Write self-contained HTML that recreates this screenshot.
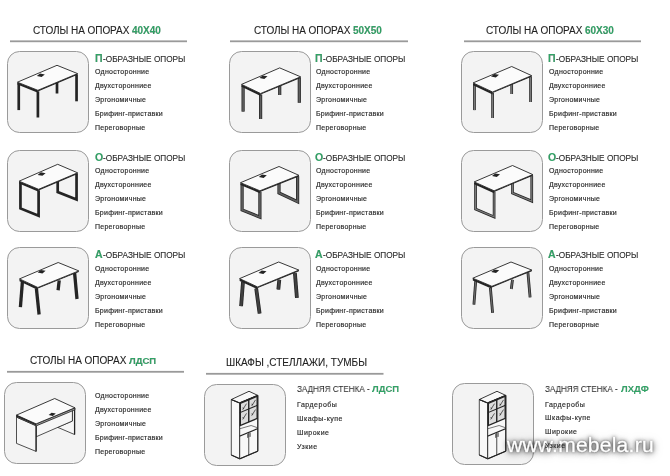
<!DOCTYPE html>
<html><head><meta charset="utf-8"><style>
html,body{margin:0;padding:0;background:#fff;width:670px;height:476px;overflow:hidden;position:relative}
body{font-family:"Liberation Sans",sans-serif;color:#262626}
svg{position:absolute;left:0;top:0}
.hd,.sh,.li,.sh2,.wm{will-change:transform}
.hd,.sh,.li,.sh2{position:absolute;white-space:nowrap;line-height:0}
.hd{font-size:10px;letter-spacing:-0.06px;color:#222;-webkit-text-stroke:0.1px #222}
.hd.z{letter-spacing:0}
.hd b{color:#30a466;letter-spacing:0}
.hd b.s{font-size:9.5px}
.sh span{display:inline-block;transform:scaleX(0.915);transform-origin:0 0}
.sh{font-size:9px;letter-spacing:0;color:#2a2a2a;-webkit-text-stroke:0.12px #2a2a2a}
.sh b{color:#30a466;font-size:10.5px;letter-spacing:0}
.sh2 span{display:inline-block;transform:scaleX(0.9);transform-origin:0 0}
.sh2{font-size:9px;letter-spacing:0;color:#2a2a2a;-webkit-text-stroke:0.05px #2a2a2a}
.sh2 b{color:#30a466;font-size:9.5px;letter-spacing:0}
.li.c{letter-spacing:0.5px}
.li{font-size:7px;letter-spacing:0.26px;color:#2a2a2a;-webkit-text-stroke:0.16px #2a2a2a}
.wm{position:absolute;left:507px;top:445px;line-height:0;font-size:21px;letter-spacing:0.25px;color:#fff;-webkit-text-stroke:0.35px #fff;text-shadow:0 0 2px rgba(0,0,0,0.6),0 0 4px rgba(0,0,0,0.6),0 1px 7px rgba(0,0,0,0.6),0 1px 11px rgba(0,0,0,0.35);white-space:nowrap}
</style></head><body>
<svg width="670" height="476" viewBox="0 0 670 476">
<rect x="10" y="40.4" width="177" height="1.8" fill="#9a9a9a"/>
<rect x="230" y="40.4" width="178" height="1.8" fill="#9a9a9a"/>
<rect x="464" y="40.4" width="177" height="1.8" fill="#9a9a9a"/>
<rect x="7" y="370.9" width="177" height="1.8" fill="#9a9a9a"/>
<rect x="206" y="372.9" width="177.5" height="1.8" fill="#9a9a9a"/>
<rect x="7.5" y="51.5" width="81" height="81" rx="12" ry="12" fill="#f3f3f3" stroke="#9a9a9a" stroke-width="1"/>
<rect x="7.5" y="150.5" width="81" height="81" rx="12" ry="12" fill="#f3f3f3" stroke="#9a9a9a" stroke-width="1"/>
<rect x="7.5" y="247.5" width="81" height="81" rx="12" ry="12" fill="#f3f3f3" stroke="#9a9a9a" stroke-width="1"/>
<rect x="229.5" y="51.5" width="81" height="81" rx="12" ry="12" fill="#f3f3f3" stroke="#9a9a9a" stroke-width="1"/>
<rect x="229.5" y="150.5" width="81" height="81" rx="12" ry="12" fill="#f3f3f3" stroke="#9a9a9a" stroke-width="1"/>
<rect x="229.5" y="247.5" width="81" height="81" rx="12" ry="12" fill="#f3f3f3" stroke="#9a9a9a" stroke-width="1"/>
<rect x="461.5" y="51.5" width="81" height="81" rx="12" ry="12" fill="#f3f3f3" stroke="#9a9a9a" stroke-width="1"/>
<rect x="461.5" y="150.5" width="81" height="81" rx="12" ry="12" fill="#f3f3f3" stroke="#9a9a9a" stroke-width="1"/>
<rect x="461.5" y="247.5" width="81" height="81" rx="12" ry="12" fill="#f3f3f3" stroke="#9a9a9a" stroke-width="1"/>
<rect x="4.5" y="382.5" width="81" height="81" rx="12" ry="12" fill="#f3f3f3" stroke="#9a9a9a" stroke-width="1"/>
<rect x="204.5" y="384.5" width="81" height="81" rx="12" ry="12" fill="#f3f3f3" stroke="#9a9a9a" stroke-width="1"/>
<rect x="452.5" y="383.5" width="81" height="81" rx="12" ry="12" fill="#f3f3f3" stroke="#9a9a9a" stroke-width="1"/>
<g transform="translate(7,51)"><path d="M11.75,32.20 L11.75,59.10" fill="none" stroke="#242424" stroke-width="2.7" stroke-linecap="butt" stroke-linejoin="miter"/><path d="M30.90,40.30 L30.90,66.50" fill="none" stroke="#242424" stroke-width="2.7" stroke-linecap="butt" stroke-linejoin="miter"/><path d="M69.55,23.60 L69.55,50.30" fill="none" stroke="#242424" stroke-width="2.7" stroke-linecap="butt" stroke-linejoin="miter"/><path d="M50.00,31.27 L50.00,42.50" fill="none" stroke="#242424" stroke-width="2.7" stroke-linecap="butt" stroke-linejoin="miter"/><polygon points="10.40,31.20 30.90,39.30 30.90,41.70 10.40,33.60" fill="#242424"/><polygon points="30.90,39.30 70.60,22.60 70.60,23.68 30.90,40.38" fill="#242424"/><polygon points="10.40,31.20 50.00,14.30 70.60,22.60 30.90,39.30" fill="#fbfbfb" stroke="#242424" stroke-width="0.9" stroke-linejoin="round"/><polygon points="29.80,25.10 33.00,22.50 37.80,23.40 34.60,26.00" fill="#242424"/></g>
<g transform="translate(229,51)"><path d="M14.10,34.40 L14.10,60.60" fill="none" stroke="#242424" stroke-width="3.2" stroke-linecap="butt" stroke-linejoin="miter"/><path d="M14.10,34.40 L14.10,60.60" fill="none" stroke="#5e5e5e" stroke-width="1.7000000000000002" stroke-linecap="butt" stroke-linejoin="miter"/><path d="M31.60,43.50 L31.60,68.00" fill="none" stroke="#242424" stroke-width="3.2" stroke-linecap="butt" stroke-linejoin="miter"/><path d="M31.60,43.50 L31.60,68.00" fill="none" stroke="#5e5e5e" stroke-width="1.7000000000000002" stroke-linecap="butt" stroke-linejoin="miter"/><path d="M70.30,26.80 L70.30,51.80" fill="none" stroke="#242424" stroke-width="3.2" stroke-linecap="butt" stroke-linejoin="miter"/><path d="M70.30,26.80 L70.30,51.80" fill="none" stroke="#5e5e5e" stroke-width="1.7000000000000002" stroke-linecap="butt" stroke-linejoin="miter"/><path d="M50.70,34.53 L50.70,44.00" fill="none" stroke="#242424" stroke-width="3.2" stroke-linecap="butt" stroke-linejoin="miter"/><path d="M50.70,34.53 L50.70,44.00" fill="none" stroke="#5e5e5e" stroke-width="1.7000000000000002" stroke-linecap="butt" stroke-linejoin="miter"/><polygon points="12.50,33.40 31.60,42.50 31.60,44.90 12.50,35.80" fill="#242424"/><polygon points="31.60,42.50 71.60,25.80 71.60,26.88 31.60,43.58" fill="#242424"/><polygon points="12.50,33.40 50.70,16.90 71.60,25.80 31.60,42.50" fill="#fbfbfb" stroke="#242424" stroke-width="0.9" stroke-linejoin="round"/><polygon points="30.50,27.00 33.70,24.40 38.50,25.30 35.30,27.90" fill="#242424"/></g>
<g transform="translate(461,51)"><path d="M13.45,32.90 L13.45,59.10" fill="none" stroke="#242424" stroke-width="2.7" stroke-linecap="butt" stroke-linejoin="miter"/><path d="M13.45,32.90 L13.45,59.10" fill="none" stroke="#7a7a7a" stroke-width="1.2000000000000002" stroke-linecap="butt" stroke-linejoin="miter"/><path d="M31.60,42.00 L31.60,67.00" fill="none" stroke="#242424" stroke-width="2.7" stroke-linecap="butt" stroke-linejoin="miter"/><path d="M31.60,42.00 L31.60,67.00" fill="none" stroke="#7a7a7a" stroke-width="1.2000000000000002" stroke-linecap="butt" stroke-linejoin="miter"/><path d="M69.55,25.60 L69.55,51.00" fill="none" stroke="#242424" stroke-width="2.7" stroke-linecap="butt" stroke-linejoin="miter"/><path d="M69.55,25.60 L69.55,51.00" fill="none" stroke="#7a7a7a" stroke-width="1.2000000000000002" stroke-linecap="butt" stroke-linejoin="miter"/><path d="M50.70,32.97 L50.70,43.00" fill="none" stroke="#242424" stroke-width="2.7" stroke-linecap="butt" stroke-linejoin="miter"/><path d="M50.70,32.97 L50.70,43.00" fill="none" stroke="#7a7a7a" stroke-width="1.2000000000000002" stroke-linecap="butt" stroke-linejoin="miter"/><polygon points="12.10,31.90 31.60,41.00 31.60,43.40 12.10,34.30" fill="#242424"/><polygon points="31.60,41.00 70.60,24.60 70.60,25.68 31.60,42.08" fill="#242424"/><polygon points="12.10,31.90 50.70,15.50 70.60,24.60 31.60,41.00" fill="#fbfbfb" stroke="#242424" stroke-width="0.9" stroke-linejoin="round"/><polygon points="30.00,25.50 33.20,22.90 38.00,23.80 34.80,26.40" fill="#242424"/></g>
<g transform="translate(7,150)"><path d="M13.45,32.20 L13.45,58.40 L31.60,65.80 L31.60,40.30" fill="none" stroke="#242424" stroke-width="2.7" stroke-linecap="butt" stroke-linejoin="miter"/><path d="M50.70,31.22 L50.70,42.00 L69.55,49.60 L69.55,23.80" fill="none" stroke="#242424" stroke-width="2.7" stroke-linecap="butt" stroke-linejoin="miter"/><polygon points="12.10,31.20 31.60,39.30 31.60,41.70 12.10,33.60" fill="#242424"/><polygon points="31.60,39.30 70.60,22.80 70.60,23.88 31.60,40.38" fill="#242424"/><polygon points="12.10,31.20 50.70,14.30 70.60,22.80 31.60,39.30" fill="#fbfbfb" stroke="#242424" stroke-width="0.9" stroke-linejoin="round"/><polygon points="30.60,24.90 33.80,22.30 38.60,23.20 35.40,25.80" fill="#242424"/></g>
<g transform="translate(229,150)"><path d="M13.10,33.70 L13.10,59.90 L30.90,67.20 L30.90,41.80" fill="none" stroke="#242424" stroke-width="3.2" stroke-linecap="butt" stroke-linejoin="miter"/><path d="M13.10,33.70 L13.10,59.90 L30.90,67.20 L30.90,41.80" fill="none" stroke="#5e5e5e" stroke-width="1.7000000000000002" stroke-linecap="butt" stroke-linejoin="miter"/><path d="M50.00,33.21 L50.00,43.00 L68.60,51.80 L68.60,26.30" fill="none" stroke="#242424" stroke-width="3.2" stroke-linecap="butt" stroke-linejoin="miter"/><path d="M50.00,33.21 L50.00,43.00 L68.60,51.80 L68.60,26.30" fill="none" stroke="#5e5e5e" stroke-width="1.7000000000000002" stroke-linecap="butt" stroke-linejoin="miter"/><polygon points="11.50,32.70 30.90,40.80 30.90,43.20 11.50,35.10" fill="#242424"/><polygon points="30.90,40.80 69.90,25.30 69.90,26.38 30.90,41.88" fill="#242424"/><polygon points="11.50,32.70 50.00,16.50 69.90,25.30 30.90,40.80" fill="#fbfbfb" stroke="#242424" stroke-width="0.9" stroke-linejoin="round"/><polygon points="29.80,27.00 33.00,24.40 37.80,25.30 34.60,27.90" fill="#242424"/></g>
<g transform="translate(461,150)"><path d="M14.55,32.90 L14.55,59.10 L33.10,66.90 L33.10,41.80" fill="none" stroke="#242424" stroke-width="2.7" stroke-linecap="butt" stroke-linejoin="miter"/><path d="M14.55,32.90 L14.55,59.10 L33.10,66.90 L33.10,41.80" fill="none" stroke="#7a7a7a" stroke-width="1.2000000000000002" stroke-linecap="butt" stroke-linejoin="miter"/><path d="M51.50,33.10 L51.50,43.00 L70.75,51.10 L70.75,25.60" fill="none" stroke="#242424" stroke-width="2.7" stroke-linecap="butt" stroke-linejoin="miter"/><path d="M51.50,33.10 L51.50,43.00 L70.75,51.10 L70.75,25.60" fill="none" stroke="#7a7a7a" stroke-width="1.2000000000000002" stroke-linecap="butt" stroke-linejoin="miter"/><polygon points="13.20,31.90 33.10,40.80 33.10,43.20 13.20,34.30" fill="#242424"/><polygon points="33.10,40.80 71.80,24.60 71.80,25.68 33.10,41.88" fill="#242424"/><polygon points="13.20,31.90 51.50,15.50 71.80,24.60 33.10,40.80" fill="#fbfbfb" stroke="#242424" stroke-width="0.9" stroke-linejoin="round"/><polygon points="31.00,26.00 34.20,23.40 39.00,24.30 35.80,26.90" fill="#242424"/></g>
<g transform="translate(7,247)"><path d="M15.40,34.90 L13.40,60.20" fill="none" stroke="#242424" stroke-width="3.3" stroke-linecap="butt" stroke-linejoin="miter"/><path d="M29.40,41.50 L32.10,67.50" fill="none" stroke="#242424" stroke-width="3.3" stroke-linecap="butt" stroke-linejoin="miter"/><path d="M67.60,26.00 L70.00,52.00" fill="none" stroke="#242424" stroke-width="3.3" stroke-linecap="butt" stroke-linejoin="miter"/><path d="M52.20,33.40 L51.10,43.30" fill="none" stroke="#242424" stroke-width="3.3" stroke-linecap="butt" stroke-linejoin="miter"/><polygon points="12.50,31.90 30.90,40.50 30.90,42.90 12.50,34.30" fill="#242424"/><polygon points="30.90,40.50 71.80,23.90 71.80,24.98 30.90,41.58" fill="#242424"/><polygon points="12.50,31.90 51.20,15.50 71.80,23.90 30.90,40.50" fill="#fbfbfb" stroke="#242424" stroke-width="0.9" stroke-linejoin="round"/><polygon points="30.60,25.50 33.80,22.90 38.60,23.80 35.40,26.40" fill="#242424"/></g>
<g transform="translate(229,247)"><path d="M14.00,34.90 L12.10,59.10" fill="none" stroke="#242424" stroke-width="3.8" stroke-linecap="butt" stroke-linejoin="miter"/><path d="M14.00,34.90 L12.10,59.10" fill="none" stroke="#404040" stroke-width="2.3" stroke-linecap="butt" stroke-linejoin="miter"/><path d="M27.20,41.50 L30.60,66.50" fill="none" stroke="#242424" stroke-width="3.8" stroke-linecap="butt" stroke-linejoin="miter"/><path d="M27.20,41.50 L30.60,66.50" fill="none" stroke="#404040" stroke-width="2.3" stroke-linecap="butt" stroke-linejoin="miter"/><path d="M65.90,26.00 L67.90,50.80" fill="none" stroke="#242424" stroke-width="3.8" stroke-linecap="butt" stroke-linejoin="miter"/><path d="M65.90,26.00 L67.90,50.80" fill="none" stroke="#404040" stroke-width="2.3" stroke-linecap="butt" stroke-linejoin="miter"/><path d="M50.30,32.70 L49.30,42.50" fill="none" stroke="#242424" stroke-width="3.8" stroke-linecap="butt" stroke-linejoin="miter"/><path d="M50.30,32.70 L49.30,42.50" fill="none" stroke="#404040" stroke-width="2.3" stroke-linecap="butt" stroke-linejoin="miter"/><polygon points="10.60,31.60 28.70,40.00 28.70,42.40 10.60,34.00" fill="#242424"/><polygon points="28.70,40.00 69.90,23.10 69.90,24.18 28.70,41.08" fill="#242424"/><polygon points="10.60,31.60 49.70,15.00 69.90,23.10 28.70,40.00" fill="#fbfbfb" stroke="#242424" stroke-width="0.9" stroke-linejoin="round"/><polygon points="29.50,26.00 32.70,23.40 37.50,24.30 34.30,26.90" fill="#242424"/></g>
<g transform="translate(461,247)"><path d="M14.70,34.10 L12.90,57.70" fill="none" stroke="#242424" stroke-width="2.8" stroke-linecap="butt" stroke-linejoin="miter"/><path d="M14.70,34.10 L12.90,57.70" fill="none" stroke="#6a6a6a" stroke-width="1.2999999999999998" stroke-linecap="butt" stroke-linejoin="miter"/><path d="M29.40,40.80 L31.60,65.80" fill="none" stroke="#242424" stroke-width="2.8" stroke-linecap="butt" stroke-linejoin="miter"/><path d="M29.40,40.80 L31.60,65.80" fill="none" stroke="#6a6a6a" stroke-width="1.2999999999999998" stroke-linecap="butt" stroke-linejoin="miter"/><path d="M66.90,25.30 L69.10,50.30" fill="none" stroke="#242424" stroke-width="2.8" stroke-linecap="butt" stroke-linejoin="miter"/><path d="M66.90,25.30 L69.10,50.30" fill="none" stroke="#6a6a6a" stroke-width="1.2999999999999998" stroke-linecap="butt" stroke-linejoin="miter"/><path d="M51.50,32.70 L50.30,42.00" fill="none" stroke="#242424" stroke-width="2.8" stroke-linecap="butt" stroke-linejoin="miter"/><path d="M51.50,32.70 L50.30,42.00" fill="none" stroke="#6a6a6a" stroke-width="1.2999999999999998" stroke-linecap="butt" stroke-linejoin="miter"/><polygon points="11.80,31.20 30.90,39.30 30.90,41.70 11.80,33.60" fill="#242424"/><polygon points="30.90,39.30 70.90,23.10 70.90,24.18 30.90,40.38" fill="#242424"/><polygon points="11.80,31.20 50.00,15.00 70.90,23.10 30.90,39.30" fill="#fbfbfb" stroke="#242424" stroke-width="0.9" stroke-linejoin="round"/><polygon points="30.20,25.00 33.40,22.40 38.20,23.30 35.00,25.90" fill="#242424"/></g>
<g transform="translate(4,382)"><polygon points="68.40,27.20 70.50,25.80 70.50,52.50 53.60,45.30 68.40,39.00" fill="#f6f6f6" stroke="#242424" stroke-width="0.8" stroke-linejoin="round"/><line x1="70.6" y1="26" x2="70.6" y2="52.5" stroke="#242424" stroke-width="1.3"/><polygon points="32.10,43.40 68.40,27.60 68.40,39.00 32.10,54.80" fill="#f6f6f6" stroke="#242424" stroke-width="0.8" stroke-linejoin="round"/><polygon points="12.50,35.10 32.10,43.40 32.10,69.40 12.50,61.40" fill="#f6f6f6" stroke="#242424" stroke-width="0.8" stroke-linejoin="round"/><line x1="32.1" y1="43.4" x2="32.1" y2="69.4" stroke="#242424" stroke-width="1.2"/><polygon points="12.50,33.10 32.10,41.90 70.90,25.80 70.90,27.80 32.10,43.90 12.50,35.10" fill="#9a9a9a" stroke="#242424" stroke-width="0.8" stroke-linejoin="round"/><polygon points="12.50,33.10 50.70,16.50 70.90,25.80 32.10,41.90" fill="#fbfbfb" stroke="#242424" stroke-width="0.9" stroke-linejoin="round"/><line x1="12.5" y1="33.9" x2="32.1" y2="42.699999999999996" stroke="#242424" stroke-width="1.2"/><polygon points="44.60,33.10 47.60,30.80 51.80,31.60 48.80,33.90" fill="#242424"/></g>
<g transform="translate(0,0)"><polygon points="231.30,399.50 239.70,403.00 239.70,458.80 231.30,455.00" fill="#f8f8f8" stroke="#242424" stroke-width="0.8" stroke-linejoin="round"/><line x1="231.3" y1="455.0" x2="239.7" y2="458.8" stroke="#242424" stroke-width="1.2"/><polygon points="231.30,399.50 249.00,391.30 257.80,395.40 239.70,403.00" fill="#f8f8f8" stroke="#242424" stroke-width="0.9" stroke-linejoin="round"/><line x1="231.3" y1="399.5" x2="239.7" y2="403.0" stroke="#242424" stroke-width="1.3"/><g transform="matrix(1,-0.4199,0,1,239.7,403.0)"><rect x="0" y="0" width="18.10" height="55.8" fill="#f8f8f8" stroke="#242424" stroke-width="0.8"/><line x1="0" y1="0" x2="18.10" y2="0" stroke="#242424" stroke-width="1.3"/><rect x="0.6" y="0.6" width="16.90" height="22.2" fill="#dcdcdc" stroke="#242424" stroke-width="1.4"/><line x1="9.05" y1="0" x2="9.05" y2="22.8" stroke="#242424" stroke-width="1.4"/><line x1="0" y1="9.7" x2="18.10" y2="9.7" stroke="#242424" stroke-width="1.1"/><path d="M3.0,8.0 L6.8,3.5 M2.8000000000000003,6.1 L4.4,7.3" stroke="#333" stroke-width="0.7" fill="none"/><path d="M12.0,8.0 L15.799999999999999,3.5 M11.799999999999999,6.1 L13.399999999999999,7.3" stroke="#333" stroke-width="0.7" fill="none"/><path d="M3.0,17.7 L6.8,13.2 M2.8000000000000003,15.799999999999999 L4.4,17.0" stroke="#333" stroke-width="0.7" fill="none"/><path d="M12.0,17.7 L15.799999999999999,13.2 M11.799999999999999,15.799999999999999 L13.399999999999999,17.0" stroke="#333" stroke-width="0.7" fill="none"/><path d="M0.3,25.8 L11.4,27.3 L17.80,32.2" stroke="#333" stroke-width="0.6" fill="none"/><line x1="0" y1="33.2" x2="18.10" y2="33.2" stroke="#242424" stroke-width="1.2"/><line x1="9.05" y1="33.2" x2="9.05" y2="55.8" stroke="#333" stroke-width="0.8"/><line x1="8.15" y1="34.0" x2="8.15" y2="38.2" stroke="#242424" stroke-width="0.9"/><line x1="10.35" y1="34.0" x2="10.35" y2="38.2" stroke="#242424" stroke-width="0.9"/><line x1="0" y1="55.8" x2="18.10" y2="55.8" stroke="#242424" stroke-width="1.2"/><line x1="18.10" y1="0" x2="18.10" y2="55.8" stroke="#242424" stroke-width="1.0"/></g></g>
<g transform="translate(248,0)"><polygon points="231.30,399.50 239.70,403.00 239.70,458.80 231.30,455.00" fill="#f8f8f8" stroke="#242424" stroke-width="0.8" stroke-linejoin="round"/><line x1="231.3" y1="455.0" x2="239.7" y2="458.8" stroke="#242424" stroke-width="1.2"/><polygon points="231.30,399.50 249.00,391.30 257.80,395.40 239.70,403.00" fill="#f8f8f8" stroke="#242424" stroke-width="0.9" stroke-linejoin="round"/><line x1="231.3" y1="399.5" x2="239.7" y2="403.0" stroke="#242424" stroke-width="1.3"/><g transform="matrix(1,-0.4199,0,1,239.7,403.0)"><rect x="0" y="0" width="18.10" height="55.8" fill="#f8f8f8" stroke="#242424" stroke-width="0.8"/><line x1="0" y1="0" x2="18.10" y2="0" stroke="#242424" stroke-width="1.3"/><rect x="0.6" y="0.6" width="16.90" height="22.2" fill="#dcdcdc" stroke="#242424" stroke-width="1.4"/><line x1="9.05" y1="0" x2="9.05" y2="22.8" stroke="#242424" stroke-width="1.4"/><line x1="0" y1="9.7" x2="18.10" y2="9.7" stroke="#242424" stroke-width="1.1"/><path d="M3.0,8.0 L6.8,3.5 M2.8000000000000003,6.1 L4.4,7.3" stroke="#333" stroke-width="0.7" fill="none"/><path d="M12.0,8.0 L15.799999999999999,3.5 M11.799999999999999,6.1 L13.399999999999999,7.3" stroke="#333" stroke-width="0.7" fill="none"/><path d="M3.0,17.7 L6.8,13.2 M2.8000000000000003,15.799999999999999 L4.4,17.0" stroke="#333" stroke-width="0.7" fill="none"/><path d="M12.0,17.7 L15.799999999999999,13.2 M11.799999999999999,15.799999999999999 L13.399999999999999,17.0" stroke="#333" stroke-width="0.7" fill="none"/><path d="M0.3,25.8 L11.4,27.3 L17.80,32.2" stroke="#333" stroke-width="0.6" fill="none"/><line x1="0" y1="33.2" x2="18.10" y2="33.2" stroke="#242424" stroke-width="1.2"/><line x1="9.05" y1="33.2" x2="9.05" y2="55.8" stroke="#333" stroke-width="0.8"/><line x1="8.15" y1="34.0" x2="8.15" y2="38.2" stroke="#242424" stroke-width="0.9"/><line x1="10.35" y1="34.0" x2="10.35" y2="38.2" stroke="#242424" stroke-width="0.9"/><line x1="0" y1="55.8" x2="18.10" y2="55.8" stroke="#242424" stroke-width="1.2"/><line x1="18.10" y1="0" x2="18.10" y2="55.8" stroke="#242424" stroke-width="1.0"/></g></g>
</svg>
<div class="wm">www.mebela.ru</div>
<div class="hd" style="left:33px;top:31px">СТОЛЫ НА ОПОРАХ <b>40X40</b></div><div class="hd" style="left:254px;top:31px">СТОЛЫ НА ОПОРАХ <b>50X50</b></div><div class="hd" style="left:486px;top:31px">СТОЛЫ НА ОПОРАХ <b>60X30</b></div><div class="hd" style="left:30px;top:361px">СТОЛЫ НА ОПОРАХ <b class="s">ЛДСП</b></div><div class="hd z" style="left:226px;top:363px">ШКАФЫ ,СТЕЛЛАЖИ, ТУМБЫ<b></b></div><div class="sh" style="left:94.5px;top:58.2px"><b>П</b><span>-ОБРАЗНЫЕ ОПОРЫ</span></div><div class="li" style="left:95px;top:72.20px">Односторонние</div><div class="li" style="left:95px;top:86.20px">Двухсторонниее</div><div class="li" style="left:95px;top:100.20px">Эргономичные</div><div class="li" style="left:95px;top:114.20px">Брифинг-приставки</div><div class="li" style="left:95px;top:128.20px">Переговорные</div><div class="sh" style="left:94.5px;top:156.8px"><b>О</b><span>-ОБРАЗНЫЕ ОПОРЫ</span></div><div class="li" style="left:95px;top:170.70px">Односторонние</div><div class="li" style="left:95px;top:184.70px">Двухсторонниее</div><div class="li" style="left:95px;top:198.70px">Эргономичные</div><div class="li" style="left:95px;top:212.70px">Брифинг-приставки</div><div class="li" style="left:95px;top:226.70px">Переговорные</div><div class="sh" style="left:94.5px;top:254.0px"><b>А</b><span>-ОБРАЗНЫЕ ОПОРЫ</span></div><div class="li" style="left:95px;top:268.50px">Односторонние</div><div class="li" style="left:95px;top:282.50px">Двухсторонниее</div><div class="li" style="left:95px;top:296.50px">Эргономичные</div><div class="li" style="left:95px;top:310.50px">Брифинг-приставки</div><div class="li" style="left:95px;top:324.50px">Переговорные</div><div class="sh" style="left:315.1px;top:58.2px"><b>П</b><span>-ОБРАЗНЫЕ ОПОРЫ</span></div><div class="li" style="left:316px;top:72.20px">Односторонние</div><div class="li" style="left:316px;top:86.20px">Двухсторонниее</div><div class="li" style="left:316px;top:100.20px">Эргономичные</div><div class="li" style="left:316px;top:114.20px">Брифинг-приставки</div><div class="li" style="left:316px;top:128.20px">Переговорные</div><div class="sh" style="left:315.1px;top:156.8px"><b>О</b><span>-ОБРАЗНЫЕ ОПОРЫ</span></div><div class="li" style="left:316px;top:170.70px">Односторонние</div><div class="li" style="left:316px;top:184.70px">Двухсторонниее</div><div class="li" style="left:316px;top:198.70px">Эргономичные</div><div class="li" style="left:316px;top:212.70px">Брифинг-приставки</div><div class="li" style="left:316px;top:226.70px">Переговорные</div><div class="sh" style="left:315.1px;top:254.0px"><b>А</b><span>-ОБРАЗНЫЕ ОПОРЫ</span></div><div class="li" style="left:316px;top:268.50px">Односторонние</div><div class="li" style="left:316px;top:282.50px">Двухсторонниее</div><div class="li" style="left:316px;top:296.50px">Эргономичные</div><div class="li" style="left:316px;top:310.50px">Брифинг-приставки</div><div class="li" style="left:316px;top:324.50px">Переговорные</div><div class="sh" style="left:547.9px;top:58.2px"><b>П</b><span>-ОБРАЗНЫЕ ОПОРЫ</span></div><div class="li" style="left:548.8px;top:72.20px">Односторонние</div><div class="li" style="left:548.8px;top:86.20px">Двухсторонниее</div><div class="li" style="left:548.8px;top:100.20px">Эргономичные</div><div class="li" style="left:548.8px;top:114.20px">Брифинг-приставки</div><div class="li" style="left:548.8px;top:128.20px">Переговорные</div><div class="sh" style="left:547.9px;top:156.8px"><b>О</b><span>-ОБРАЗНЫЕ ОПОРЫ</span></div><div class="li" style="left:548.8px;top:170.70px">Односторонние</div><div class="li" style="left:548.8px;top:184.70px">Двухсторонниее</div><div class="li" style="left:548.8px;top:198.70px">Эргономичные</div><div class="li" style="left:548.8px;top:212.70px">Брифинг-приставки</div><div class="li" style="left:548.8px;top:226.70px">Переговорные</div><div class="sh" style="left:547.9px;top:254.0px"><b>А</b><span>-ОБРАЗНЫЕ ОПОРЫ</span></div><div class="li" style="left:548.8px;top:268.50px">Односторонние</div><div class="li" style="left:548.8px;top:282.50px">Двухсторонниее</div><div class="li" style="left:548.8px;top:296.50px">Эргономичные</div><div class="li" style="left:548.8px;top:310.50px">Брифинг-приставки</div><div class="li" style="left:548.8px;top:324.50px">Переговорные</div><div class="li" style="left:95px;top:396.20px">Односторонние</div><div class="li" style="left:95px;top:410.20px">Двухсторонниее</div><div class="li" style="left:95px;top:424.20px">Эргономичные</div><div class="li" style="left:95px;top:438.20px">Брифинг-приставки</div><div class="li" style="left:95px;top:452.20px">Переговорные</div><div class="sh2" style="left:297.2px;top:389.1px"><span>ЗАДНЯЯ СТЕНКА -</span></div><div class="sh2" style="left:371.5px;top:389.1px"><b>ЛДСП</b></div><div class="sh2" style="left:545.2px;top:389.3px"><span>ЗАДНЯЯ СТЕНКА -</span></div><div class="sh2" style="left:620.5px;top:389.3px"><b>ЛХДФ</b></div><div class="li c" style="left:297.4px;top:405.00px">Гардеробы</div><div class="li c" style="left:297.4px;top:418.90px">Шкафы-купе</div><div class="li c" style="left:297.4px;top:432.80px">Широкие</div><div class="li c" style="left:297.4px;top:446.70px">Узкие</div><div class="li c" style="left:545.4px;top:404.50px">Гардеробы</div><div class="li c" style="left:545.4px;top:418.40px">Шкафы-купе</div><div class="li c" style="left:545.4px;top:432.30px">Широкие</div><div class="li c" style="left:545.4px;top:446.20px">Узкие</div>
</body></html>
